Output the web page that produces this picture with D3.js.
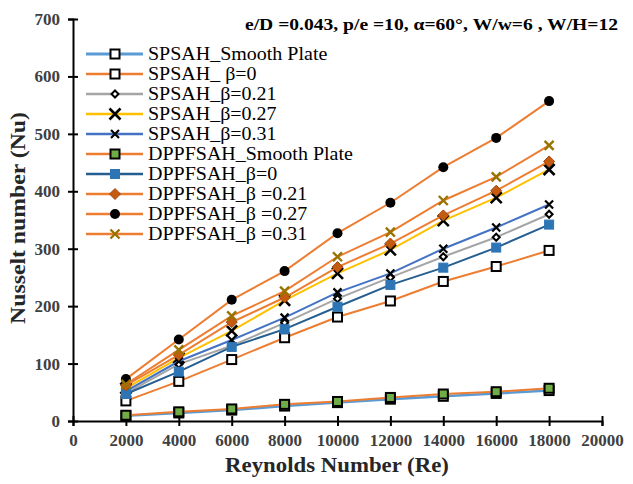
<!DOCTYPE html>
<html><head><meta charset="utf-8">
<script src="https://cdn.jsdelivr.net/npm/d3@7/dist/d3.min.js"></script>
<style>body{margin:0;background:#fff}svg{display:block}</style>
</head><body><svg id="c" width="633" height="484"></svg>
<script>
const reynolds = [2000,4000,6000,8000,10000,12000,14000,16000,18000];
const spSmooth = [9,14,19,26,32,38,43,48,53];
const spB0     = [35,69,107,145,181,209,243,269,297];
const spB021   = [48,99,131,171,213,250,286,320,360];
const spB027   = [57,110,157,210,257,298,349,389,438];
const spB031   = [52,104,141,180,224,257,300,337,377];
const dpSmooth = [10,16,21,29,34,41,47,51,57];
const dpB0     = [47,86,129,160,199,237,267,302,342];
const dpB021   = [62,115,172,215,268,309,358,401,452];
const dpB027   = [73,142,211,261,327,380,442,493,557];
const dpB031   = [64,124,183,226,286,329,384,425,480];
const seriesNames = ["SPSAH_Smooth Plate","SPSAH_ β=0","SPSAH_β=0.21","SPSAH_β=0.27","SPSAH_β=0.31",
  "DPPFSAH_Smooth Plate","DPPFSAH_β=0","DPPFSAH_β =0.21","DPPFSAH_β =0.27","DPPFSAH_β =0.31"];
const xTicks = [0,2000,4000,6000,8000,10000,12000,14000,16000,18000,20000];
const yTicks = [0,100,200,300,400,500,600,700];
const titleText = "e/D =0.043, p/e =10, α=60°, W/w=6 , W/H=12";

const values = [spSmooth,spB0,spB021,spB027,spB031,dpSmooth,dpB0,dpB021,dpB027,dpB031];
const styles = [
  {line:"#5B9BD5", w:2.5, m:"square", fill:"#fff", stroke:"#000", size:9, sw:2},
  {line:"#ED7D31", w:2, m:"square", fill:"#fff", stroke:"#000", size:9, sw:2},
  {line:"#A5A5A5", w:2, m:"diamond", fill:"#fff", stroke:"#000", size:7, sw:2},
  {line:"#FFC000", w:2, m:"x", fill:"none", stroke:"#000", size:11, sw:2.6},
  {line:"#4472C4", w:2, m:"x", fill:"none", stroke:"#000", size:8, sw:2.2},
  {line:"#ED7D31", w:2, m:"square", fill:"#70AD47", stroke:"#000", size:9, sw:2},
  {line:"#255E91", w:2, m:"square", fill:"#2E75B6", stroke:"#2E75B6", size:9, sw:1},
  {line:"#ED7D31", w:2, m:"diamond", fill:"#C55A11", stroke:"#9E480E", size:11, sw:1},
  {line:"#ED7D31", w:2, m:"circle", fill:"#000", stroke:"#000", size:10, sw:1},
  {line:"#ED7D31", w:2, m:"x", fill:"none", stroke:"#997300", size:9, sw:2.4}
];

const svg = d3.select("#c");
const X0=73, X1=602, Y0=421, Y1=19;
const x = d3.scaleLinear().domain([0,20000]).range([X0,X1]);
const y = d3.scaleLinear().domain([0,700]).range([Y0,Y1]);
const serif = "'Liberation Serif','Times New Roman',serif";

function stretch(sel, f){
  sel.each(function(){
    const len = this.getComputedTextLength();
    d3.select(this).attr("textLength", len*f).attr("lengthAdjust","spacingAndGlyphs");
  });
}

function marker(g, s, cx, cy){
  const h = s.size/2;
  if(s.m==="square"){
    g.append("rect").attr("x",cx-h).attr("y",cy-h).attr("width",s.size).attr("height",s.size)
      .attr("fill",s.fill).attr("stroke",s.stroke).attr("stroke-width",s.sw);
  } else if(s.m==="diamond"){
    g.append("path").attr("d",`M${cx},${cy-h}L${cx+h},${cy}L${cx},${cy+h}L${cx-h},${cy}Z`)
      .attr("fill",s.fill).attr("stroke",s.stroke).attr("stroke-width",s.sw);
  } else if(s.m==="circle"){
    g.append("circle").attr("cx",cx).attr("cy",cy).attr("r",h).attr("fill",s.fill);
  } else {
    g.append("path").attr("d",`M${cx-h},${cy-h}L${cx+h},${cy+h}M${cx-h},${cy+h}L${cx+h},${cy-h}`)
      .attr("stroke",s.stroke).attr("stroke-width",s.sw).attr("fill","none");
  }
}

// axes
const xa = svg.append("g").attr("transform",`translate(0,${Y0})`)
  .call(d3.axisBottom(x).tickValues(xTicks).tickFormat(d3.format("d")).tickSizeOuter(0).tickSize(5).tickPadding(8));
xa.attr("font-family",serif);
xa.selectAll(".tick line").attr("y1",-5).attr("stroke","#000").attr("stroke-width",2);
xa.select(".domain").attr("stroke","#000").attr("stroke-width",2);
xa.selectAll("text").attr("font-family",serif).attr("font-size",17).attr("font-weight","bold").attr("fill","#404040");

const ya = svg.append("g").attr("transform",`translate(${X0},0)`)
  .call(d3.axisLeft(y).tickValues(yTicks).tickSizeOuter(0).tickSize(5).tickPadding(8));
ya.attr("font-family",serif);
ya.selectAll(".tick line").attr("x1",5).attr("stroke","#000").attr("stroke-width",2);
ya.select(".domain").attr("stroke","#000").attr("stroke-width",2);
ya.selectAll("text").attr("font-family",serif).attr("font-size",17).attr("font-weight","bold").attr("fill","#404040");

// series
const line = d3.line().x((d,i)=>x(reynolds[i])).y(d=>y(d));
values.forEach((vals,k)=>{
  const s = styles[k];
  const g = svg.append("g");
  g.append("path").datum(vals).attr("d",line).attr("fill","none").attr("stroke",s.line).attr("stroke-width",s.w);
  vals.forEach((v,i)=>marker(g,s,x(reynolds[i]),y(v)));
});

// legend
const lg = svg.append("g");
seriesNames.forEach((name,k)=>{
  const s = styles[k];
  const cy = 54 + k*20;
  lg.append("line").attr("x1",86).attr("x2",143).attr("y1",cy).attr("y2",cy).attr("stroke",s.line).attr("stroke-width",s.w+0.5);
  marker(lg,s,115,cy);
  lg.append("text").attr("class","lt").attr("x",148).attr("y",cy+6).text(name)
    .attr("font-family",serif).attr("font-size",18.5).attr("fill","#000");
});
stretch(lg.selectAll("text.lt"), 1.08);

// title
svg.append("text").attr("x",245).attr("y",30).text(titleText)
  .attr("font-family",serif).attr("font-size",16).attr("font-weight","bold")
  .attr("textLength",373).attr("lengthAdjust","spacingAndGlyphs");

// axis titles
const xt = svg.append("text").attr("x",337).attr("y",472).attr("text-anchor","middle").text("Reynolds Number (Re)")
  .attr("font-family",serif).attr("font-size",20).attr("font-weight","bold").attr("fill","#262626");
stretch(xt, 1.14);
const yt = svg.append("text").attr("transform","translate(25,218) rotate(-90)").attr("text-anchor","middle").text("Nusselt number (Nu)")
  .attr("font-family",serif).attr("font-size",21).attr("font-weight","bold").attr("fill","#262626");
stretch(yt, 1.13);
</script></body></html>
